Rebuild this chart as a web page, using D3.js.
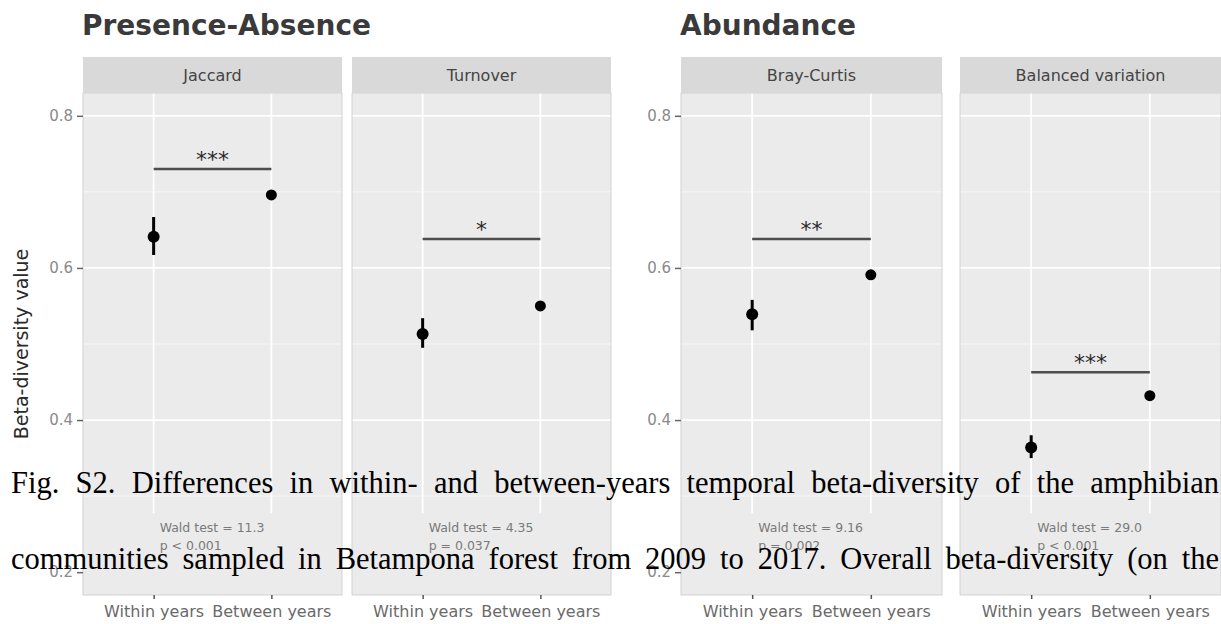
<!DOCTYPE html>
<html>
<head>
<meta charset="utf-8">
<script src="https://cdn.jsdelivr.net/npm/d3@7"></script>
<style>
	body { margin: 0; background: #ffffff; }
	svg { display: block; }
</style>
</head>
<body>
<svg id="chart" width="1221" height="624"></svg>
<script>
// values
const sections = ["Presence-Absence", "Abundance"];
const facets = ["Jaccard", "Turnover", "Bray-Curtis", "Balanced variation"];
const groups = ["Within years", "Between years"];

const withinMean = [0.641, 0.513, 0.539, 0.364];
const withinLow = [0.617, 0.495, 0.518, 0.350];
const withinHigh = [0.667, 0.534, 0.558, 0.380];
const betweenMean = [0.696, 0.550, 0.591, 0.432];
const betweenLow = [0.693, 0.547, 0.588, 0.428];
const betweenHigh = [0.699, 0.553, 0.594, 0.436];

const sigY = [0.730, 0.638, 0.638, 0.463];
const sigLabels = ["***", "*", "**", "***"];
const waldStat = ["11.3", "4.35", "9.16", "29.0"];
const pText = ["p < 0.001", "p = 0.037", "p = 0.002", "p < 0.001"];

const yTicks = [0.2, 0.4, 0.6, 0.8];
const yMinor = [0.3, 0.5, 0.7];
const waldY = 0.246;

const captionLines = [
	"Fig. S2. Differences in within- and between-years temporal beta-diversity of the amphibian",
	"communities sampled in Betampona forest from 2009 to 2017. Overall beta-diversity (on the"
];

const svg = d3.select("svg#chart");
const font = "'DejaVu Sans', sans-serif";
const panelTop = 93;
const panelBottom = 595;
const stripTop = 57;

// two facet groups, each with its own y axis
const layout = [
	{ left: 83, panelW: 259, gap: 10, facets: [0, 1] },
	{ left: 681, panelW: 261, gap: 18, facets: [2, 3] }
];

const y = d3.scaleLinear().domain([0.17, 0.83]).range([panelBottom, panelTop]);

layout.forEach(function (sec, s) {
	svg.append("text")
		.attr("x", sec.left - 1)
		.attr("y", 35)
		.style("font", "bold 28px " + font)
		.style("fill", "#3a3a3a")
		.text(sections[s]);

	sec.facets.forEach(function (f, k) {
		const px = sec.left + k * (sec.panelW + sec.gap);
		const x = d3.scalePoint().domain(groups).range([px, px + sec.panelW]).padding(0.6);
		const g = svg.append("g");

		g.append("rect")
			.attr("x", px)
			.attr("y", panelTop)
			.attr("width", sec.panelW)
			.attr("height", panelBottom - panelTop)
			.attr("fill", "#ebebeb");

		yMinor.forEach(function (t) {
			g.append("line")
				.attr("x1", px).attr("x2", px + sec.panelW)
				.attr("y1", y(t)).attr("y2", y(t))
				.style("stroke", "#f7f7f7")
				.style("stroke-width", 1);
		});
		yTicks.forEach(function (t) {
			g.append("line")
				.attr("x1", px).attr("x2", px + sec.panelW)
				.attr("y1", y(t)).attr("y2", y(t))
				.style("stroke", "#ffffff")
				.style("stroke-width", 1.8);
		});
		groups.forEach(function (gr) {
			g.append("line")
				.attr("x1", x(gr)).attr("x2", x(gr))
				.attr("y1", panelTop).attr("y2", panelBottom)
				.style("stroke", "#ffffff")
				.style("stroke-width", 1.8);
		});

		// box behind the Wald test text hides the grid
		g.append("rect")
			.attr("x", px)
			.attr("y", y(waldY) - 24)
			.attr("width", sec.panelW)
			.attr("height", panelBottom - y(waldY) + 24)
			.attr("fill", "#ebebeb");

		g.append("rect")
			.attr("x", px)
			.attr("y", panelTop)
			.attr("width", sec.panelW)
			.attr("height", panelBottom - panelTop)
			.attr("fill", "none")
			.style("stroke", "#d2d2d2")
			.style("stroke-width", 1);

		// strip
		g.append("rect")
			.attr("x", px)
			.attr("y", stripTop)
			.attr("width", sec.panelW)
			.attr("height", panelTop - stripTop)
			.attr("fill", "#d9d9d9");
		g.append("text")
			.attr("x", px + sec.panelW / 2)
			.attr("y", (stripTop + panelTop) / 2)
			.attr("dy", "0.36em")
			.attr("text-anchor", "middle")
			.style("font", "16px " + font)
			.style("fill", "#444")
			.text(facets[f]);

		// significance bar
		g.append("line")
			.attr("x1", x(groups[0])).attr("x2", x(groups[1]))
			.attr("y1", y(sigY[f])).attr("y2", y(sigY[f]))
			.style("stroke", "#4d4d4d")
			.style("stroke-width", 2.5);
		g.append("text")
			.attr("x", (x(groups[0]) + x(groups[1])) / 2)
			.attr("y", y(sigY[f]) - 2)
			.attr("text-anchor", "middle")
			.style("font", "22px " + font)
			.style("fill", "#2a2a2a")
			.text(sigLabels[f]);

		// error bars and means
		const pts = [
			{ g: groups[0], m: withinMean[f], lo: withinLow[f], hi: withinHigh[f], r: 6 },
			{ g: groups[1], m: betweenMean[f], lo: betweenLow[f], hi: betweenHigh[f], r: 5.5 }
		];
		pts.forEach(function (p) {
			g.append("line")
				.attr("x1", x(p.g)).attr("x2", x(p.g))
				.attr("y1", y(p.lo)).attr("y2", y(p.hi))
				.style("stroke", "#000")
				.style("stroke-width", 3);
			g.append("circle")
				.attr("cx", x(p.g))
				.attr("cy", y(p.m))
				.attr("r", p.r)
				.attr("fill", "#000");
		});

		// Wald test annotation
		const wt = g.append("text")
			.attr("x", x(groups[0]) + 6)
			.attr("y", y(waldY))
			.style("font", "12.5px " + font)
			.style("fill", "#7a7a7a");
		wt.append("tspan").attr("x", x(groups[0]) + 6).attr("dy", "-0.4em").text("Wald test = " + waldStat[f]);
		wt.append("tspan").attr("x", x(groups[0]) + 6).attr("dy", "1.45em").text(pText[f]);

		// x axis
		const xa = svg.append("g")
			.attr("transform", `translate(0,${panelBottom})`)
			.call(d3.axisBottom(x).tickSize(4).tickPadding(7));
		xa.select(".domain").remove();
		xa.selectAll("line").style("stroke", "#555").style("stroke-width", 1.5);
		xa.selectAll("text").style("font", "16px " + font).style("fill", "#6a6a6a");
	});

	// y axis
	const ya = svg.append("g")
		.attr("transform", `translate(${sec.left},0)`)
		.call(d3.axisLeft(y).tickValues(yTicks).tickSize(6).tickPadding(4).tickFormat(d3.format(".1f")));
	ya.select(".domain").remove();
	ya.selectAll("line").style("stroke", "#666").style("stroke-width", 1.5);
	ya.selectAll("text").style("font", "15px " + font).style("fill", "#8a8a8a");
});

svg.append("text")
	.attr("transform", `translate(28,${(panelTop + panelBottom) / 2}) rotate(-90)`)
	.attr("text-anchor", "middle")
	.style("font", "19px " + font)
	.style("fill", "#2a2a2a")
	.text("Beta-diversity value");

// caption set on top of the figure, justified
const capLeft = 11;
const capRight = 1219;
const capBase = [493, 569];
captionLines.forEach(function (line, i) {
	const words = line.split(" ");
	const nodes = words.map(function (w) {
		return svg.append("text")
			.attr("y", capBase[i])
			.style("font", "30.5px 'Liberation Serif', 'Times New Roman', serif")
			.style("fill", "#000")
			.text(w);
	});
	const widths = nodes.map(function (n) { return n.node().getComputedTextLength(); });
	const total = d3.sum(widths);
	const gap = (capRight - capLeft - total) / (words.length - 1);
	let cx = capLeft;
	nodes.forEach(function (n, j) {
		n.attr("x", cx);
		cx += widths[j] + gap;
	});
});
</script>
</body>
</html>
